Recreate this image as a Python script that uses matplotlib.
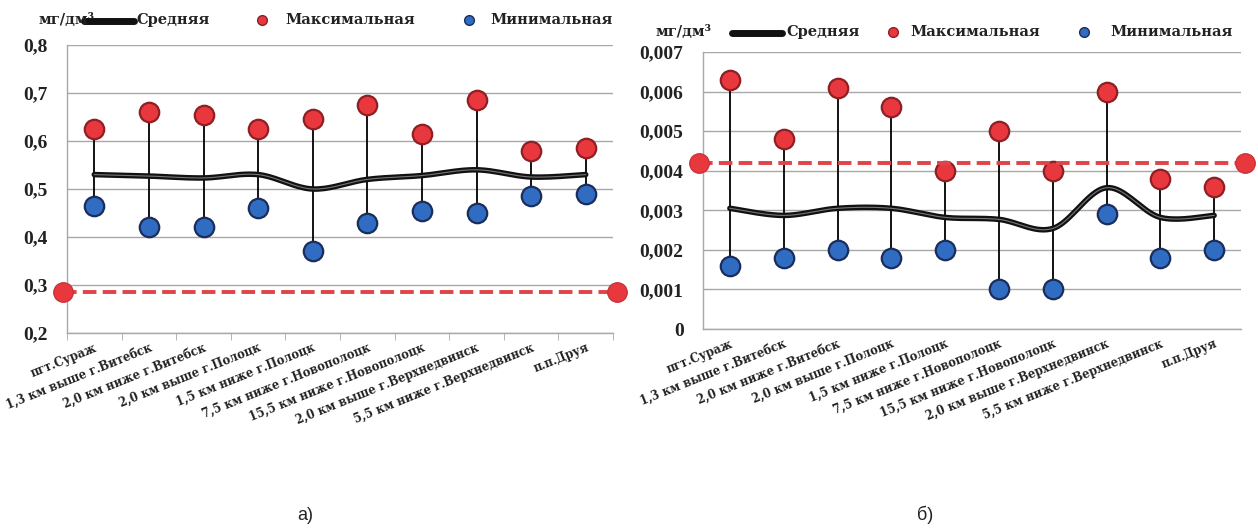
#!/usr/bin/env python3
"""Two-panel min/mean/max concentration chart along the Western Dvina
stations: a) first parameter (0.2-0.8 mg/dm3), b) second (0-0.007 mg/dm3).
Red dashed line marks the reference level in each panel."""
import matplotlib

matplotlib.use("Agg")
import matplotlib.pyplot as plt
import numpy as np
from matplotlib.lines import Line2D
from matplotlib.ticker import FixedLocator, FuncFormatter

STATIONS = [
    "пгт.Сураж",
    "1,3 км выше г.Витебск",
    "2,0 км ниже г.Витебск",
    "2,0 км выше г.Полоцк",
    "1,5 км ниже г.Полоцк",
    "7,5 км ниже г.Новополоцк",
    "15,5 км ниже г.Новополоцк",
    "2,0 км выше г.Верхнедвинск",
    "5,5 км ниже г.Верхнедвинск",
    "п.п.Друя",
]

# panel a)
A_MEAN = [0.53, 0.527, 0.523, 0.53, 0.50, 0.52, 0.528, 0.54, 0.525, 0.53]
A_MAX = [0.625, 0.66, 0.655, 0.625, 0.645, 0.675, 0.615, 0.685, 0.58, 0.585]
A_MIN = [0.465, 0.42, 0.42, 0.46, 0.37, 0.43, 0.455, 0.45, 0.485, 0.49]
A_LIMIT = 0.285
A_TICKS = [0.2, 0.3, 0.4, 0.5, 0.6, 0.7, 0.8]

# panel б)
B_MEAN = [0.00305, 0.00287, 0.00305, 0.00305, 0.00282, 0.00277, 0.00254,
          0.00357, 0.00282, 0.00287]
B_MAX = [0.0063, 0.0048, 0.0061, 0.0056, 0.0040, 0.0050, 0.0040, 0.0060,
         0.0038, 0.0036]
B_MIN = [0.0016, 0.0018, 0.0020, 0.0018, 0.0020, 0.0010, 0.0010, 0.0029,
         0.0018, 0.0020]
B_LIMIT = 0.0042
B_TICKS = [0, 0.001, 0.002, 0.003, 0.004, 0.005, 0.006, 0.007]

RED = "#e8383d"
RED_EDGE = "#8e1f25"
BLUE = "#2f6cc2"
BLUE_EDGE = "#1b2d5a"
DASH_RED = "#e04449"
GRID = "#a8a8a8"
SERIF = ["DejaVu Serif"]
TIMES = ["Liberation Serif"]

W, H = 1258, 531


def smooth(y, n=20):
    # Catmull-Rom curve through the points (same feel as a smoothed office line)
    y = np.asarray(y, float)
    x = np.arange(len(y), dtype=float)
    px = np.concatenate([[x[0]], x, [x[-1]]])
    py = np.concatenate([[y[0]], y, [y[-1]]])
    xs, ys = [], []
    t = np.linspace(0, 1, n, endpoint=False)
    for i in range(1, len(px) - 2):
        for arr, out in ((px, xs), (py, ys)):
            p0, p1, p2, p3 = arr[i - 1], arr[i], arr[i + 1], arr[i + 2]
            c1 = p1 + (p2 - p0) / 6
            c2 = p2 - (p3 - p1) / 6
            out.extend((1 - t) ** 3 * p1 + 3 * (1 - t) ** 2 * t * c1
                       + 3 * (1 - t) * t ** 2 * c2 + t ** 3 * p2)
    xs.append(x[-1])
    ys.append(y[-1])
    return np.array(xs), np.array(ys)


def fx(px):
    return px / W


def fy(py):
    return 1 - py / H


def draw_panel(ax, mean, vmax, vmin, limit, ticks, fmt, tick_len):
    x = np.arange(len(STATIONS))
    ax.set_xlim(-0.5, len(STATIONS) - 0.5)
    ax.set_ylim(ticks[0], ticks[-1])
    ax.yaxis.set_major_locator(FixedLocator(ticks))
    ax.yaxis.set_major_formatter(FuncFormatter(fmt))
    ax.grid(axis="y", color=GRID, lw=1.0)
    ax.set_axisbelow(True)
    for s in ("top", "right"):
        ax.spines[s].set_visible(False)
    for s in ("left", "bottom"):
        ax.spines[s].set_color(GRID)
        ax.spines[s].set_linewidth(1.0)
    ax.tick_params(axis="y", length=0, pad=14)
    for lab in ax.get_yticklabels():
        lab.set_family(TIMES)
        lab.set_fontweight("bold")
        lab.set_fontsize(14)
        lab.set_color("#222222")

    # category boundaries carry the tick marks, labels sit at the centres
    ax.set_xticks(np.arange(-0.5, len(STATIONS)), minor=True)
    ax.set_xticks(x)
    ax.tick_params(axis="x", which="minor", length=tick_len, color=GRID)
    ax.tick_params(axis="x", which="major", length=0, pad=6)
    ax.set_xticklabels(STATIONS, rotation=22, ha="right",
                       rotation_mode="anchor", family=SERIF,
                       fontweight="bold", fontsize=8.3, color="#222222")

    ax.vlines(x, vmin, vmax, color="black", lw=1.3, zorder=2)
    sx, sy = smooth(mean)
    ax.plot(sx, sy, color="#111111", lw=4.0, solid_capstyle="round", zorder=3)
    ax.plot(sx, sy, color="#777777", lw=0.8, zorder=3)
    ax.plot(x, vmax, "o", ms=14, mfc=RED, mec=RED_EDGE, mew=1.6, zorder=4)
    ax.plot(x, vmin, "o", ms=14, mfc=BLUE, mec=BLUE_EDGE, mew=1.6, zorder=4)
    ax.plot([-0.58, len(STATIONS) - 0.42], [limit, limit], color=DASH_RED,
            lw=2.8, dashes=(3.5, 1.6), marker="o", ms=14, mfc=RED,
            mec="#c8343a", mew=1.0, clip_on=False, zorder=5)


def legend(fig, unit_x, bar, mean_x, red_x, max_x, blue_x, min_x, y):
    txt = dict(family=SERIF, fontweight="bold", fontsize=10.5, color="#222222",
               va="center", ha="left")
    fig.text(fx(unit_x), fy(y), "мг/дм³", **txt)
    fig.add_artist(Line2D([fx(bar[0]), fx(bar[1])], [fy(y + 1), fy(y + 1)],
                          color="#111111", lw=5, solid_capstyle="round",
                          transform=fig.transFigure))
    fig.text(fx(mean_x), fy(y), "Средняя", **txt)
    fig.add_artist(Line2D([fx(red_x)], [fy(y)], marker="o", ms=7, mfc=RED,
                          mec=RED_EDGE, transform=fig.transFigure))
    fig.text(fx(max_x), fy(y), "Максимальная", **txt)
    fig.add_artist(Line2D([fx(blue_x)], [fy(y)], marker="o", ms=7, mfc=BLUE,
                          mec=BLUE_EDGE, transform=fig.transFigure))
    fig.text(fx(min_x), fy(y), "Минимальная", **txt)


def main():
    fig = plt.figure(figsize=(W / 100, H / 100), dpi=100)
    ax_a = fig.add_axes([fx(67), fy(333), (613 - 67) / W, (333 - 45) / H])
    ax_b = fig.add_axes([fx(703), fy(329), (1241 - 703) / W, (329 - 52) / H])

    draw_panel(ax_a, A_MEAN, A_MAX, A_MIN, A_LIMIT, A_TICKS,
               lambda v, _: f"{v:.1f}".replace(".", ","), 5)
    draw_panel(ax_b, B_MEAN, B_MAX, B_MIN, B_LIMIT, B_TICKS,
               lambda v, _: "0" if v == 0 else f"{v:.3f}".replace(".", ","), 0)

    legend(fig, 38, (84, 134), 136, 262, 285, 469, 490, 20)
    legend(fig, 655, (732, 782), 786, 893, 910, 1084, 1110, 32)

    cap = dict(family=["Liberation Sans"], fontsize=13, ha="center",
               va="center", color="#222222")
    fig.text(fx(305), fy(515), "а)", **cap)
    fig.text(fx(925), fy(515), "б)", **cap)

    fig.savefig("out.png", dpi=100)


if __name__ == "__main__":
    main()
